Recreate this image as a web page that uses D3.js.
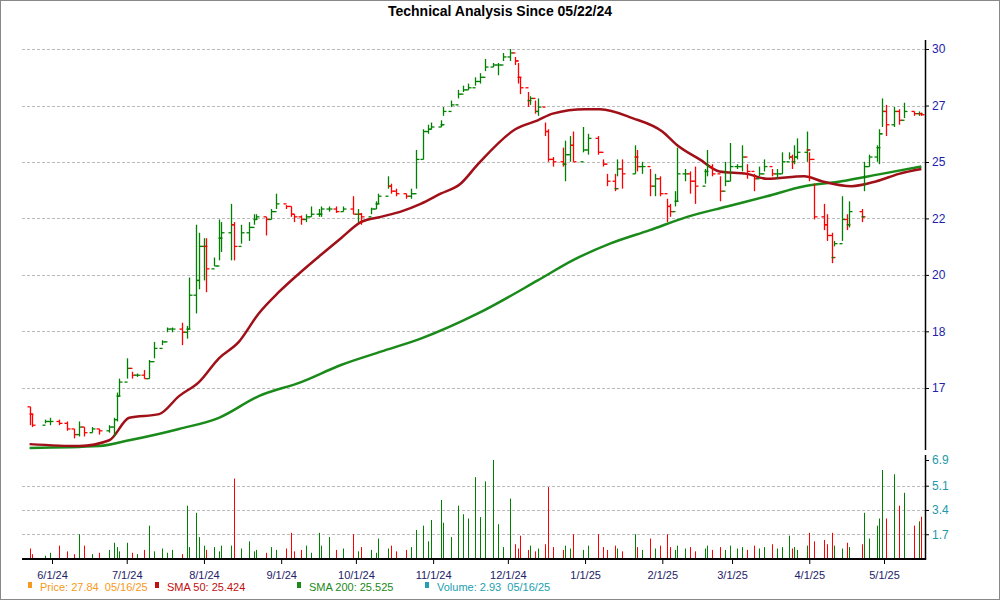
<!DOCTYPE html>
<html><head><meta charset="utf-8">
<script src="https://cdn.jsdelivr.net/npm/d3@7"></script>
<style>body{margin:0;background:#fff;font-family:"Liberation Sans",Arial,sans-serif}</style>
</head><body><svg id="c" width="1000" height="600"></svg>
<script>
const dates=["2024-05-23","2024-05-24","2024-05-29","2024-05-31","2024-06-04","2024-06-07","2024-06-10","2024-06-12","2024-06-14","2024-06-17","2024-06-20","2024-06-24","2024-06-26","2024-06-27","2024-06-28","2024-07-01","2024-07-03","2024-07-05","2024-07-08","2024-07-10","2024-07-12","2024-07-15","2024-07-17","2024-07-19","2024-07-23","2024-07-25","2024-07-26","2024-07-29","2024-07-30","2024-08-01","2024-08-02","2024-08-05","2024-08-07","2024-08-08","2024-08-12","2024-08-13","2024-08-16","2024-08-19","2024-08-21","2024-08-22","2024-08-26","2024-08-28","2024-08-30","2024-09-03","2024-09-05","2024-09-06","2024-09-09","2024-09-11","2024-09-13","2024-09-16","2024-09-17","2024-09-20","2024-09-23","2024-09-26","2024-09-30","2024-10-02","2024-10-03","2024-10-07","2024-10-09","2024-10-10","2024-10-14","2024-10-15","2024-10-17","2024-10-21","2024-10-23","2024-10-25","2024-10-28","2024-10-30","2024-10-31","2024-11-04","2024-11-05","2024-11-08","2024-11-11","2024-11-13","2024-11-15","2024-11-18","2024-11-20","2024-11-22","2024-11-25","2024-11-27","2024-11-29","2024-12-02","2024-12-04","2024-12-05","2024-12-06","2024-12-09","2024-12-10","2024-12-12","2024-12-13","2024-12-16","2024-12-17","2024-12-19","2024-12-23","2024-12-24","2024-12-26","2024-12-27","2024-12-31","2025-01-02","2025-01-06","2025-01-08","2025-01-10","2025-01-13","2025-01-14","2025-01-16","2025-01-21","2025-01-22","2025-01-24","2025-01-27","2025-01-29","2025-01-31","2025-02-03","2025-02-04","2025-02-06","2025-02-07","2025-02-10","2025-02-12","2025-02-14","2025-02-18","2025-02-19","2025-02-21","2025-02-24","2025-02-26","2025-02-28","2025-03-03","2025-03-05","2025-03-07","2025-03-10","2025-03-12","2025-03-14","2025-03-17","2025-03-19","2025-03-21","2025-03-24","2025-03-25","2025-03-26","2025-03-27","2025-03-31","2025-04-01","2025-04-03","2025-04-07","2025-04-08","2025-04-10","2025-04-11","2025-04-14","2025-04-16","2025-04-17","2025-04-22","2025-04-23","2025-04-25","2025-04-28","2025-04-29","2025-04-30","2025-05-02","2025-05-05","2025-05-07","2025-05-09","2025-05-13","2025-05-15","2025-05-16"];
const closes=[16.2,15.9,16.0,16.0,15.95,15.8,15.65,15.85,15.7,15.8,15.75,15.85,16.05,16.7,17.1,17.5,17.3,17.3,17.2,17.7,18.1,18.3,18.7,18.7,18.6,18.7,19.8,20.3,21.5,21.5,20.7,20.8,21.8,22.0,22.3,21.5,22.0,22.2,22.5,22.6,22.5,22.8,23.1,23.0,22.7,22.6,22.5,22.6,22.7,22.7,22.9,22.9,22.8,22.9,22.7,22.7,22.6,22.9,23.1,23.4,23.8,23.6,23.5,23.4,23.5,24.9,26.1,26.2,26.3,26.4,27.0,27.3,27.8,28.0,28.1,28.4,28.6,29.1,29.2,29.2,29.6,29.8,29.4,28.6,28.1,27.5,27.6,27.0,27.2,26.1,24.9,24.8,24.7,25.1,25.5,24.8,25.3,25.8,25.2,24.7,24.0,23.7,24.5,24.3,25.0,24.6,24.6,23.8,24.1,23.5,23.0,22.8,23.2,24.3,24.3,24.0,23.8,24.4,24.6,24.3,23.6,24.0,24.6,24.6,25.0,24.4,24.1,24.3,24.6,24.3,24.3,24.8,25.0,24.8,25.0,25.2,25.3,24.9,22.6,22.3,21.9,21.1,21.6,22.5,22.3,22.8,22.6,24.6,25.0,25.4,26.0,27.0,26.4,27.0,26.6,27.0,26.9,26.9,26.85];
const highs=[16.4,16.2,16.05,16.1,16.05,16.0,15.8,16.0,15.85,15.85,15.8,15.9,16.1,16.8,17.2,17.8,17.4,17.35,17.45,17.75,18.3,18.35,18.75,18.75,18.9,18.8,20.4,22.3,22.0,21.8,21.8,21.1,22.5,22.4,23.1,22.4,22.3,22.4,22.7,22.7,22.6,22.9,23.5,23.05,23.0,22.7,22.65,22.7,23.0,22.9,23.0,23.0,23.0,23.0,23.4,22.9,22.75,22.95,23.2,23.5,24.2,23.9,23.7,23.5,23.7,25.3,26.2,26.4,26.5,26.6,27.2,27.5,28.0,28.2,28.3,28.6,28.8,29.5,29.3,29.3,29.8,30.0,29.6,29.3,28.6,27.9,27.7,27.5,27.6,26.5,26.2,25.0,25.4,25.7,25.9,26.1,26.3,26.0,25.9,24.9,24.3,24.3,24.9,24.9,25.5,25.3,24.8,24.5,24.3,24.2,23.3,23.1,23.6,25.4,24.5,24.4,24.6,24.5,25.3,24.7,24.2,24.8,25.6,24.7,25.5,24.7,24.3,24.6,24.9,24.5,24.5,25.2,25.2,25.1,25.5,25.8,26.1,25.2,23.9,23.1,22.7,22.0,21.7,23.4,22.7,23.2,22.9,24.8,25.1,25.5,26.2,27.6,27.3,27.2,27.1,27.4,27.0,27.0,26.95];
const lows=[15.9,15.85,15.95,15.9,15.9,15.75,15.55,15.6,15.6,15.7,15.65,15.7,15.6,16.0,16.7,17.2,17.2,17.25,17.2,17.2,17.8,18.2,18.6,18.6,18.2,18.4,18.7,19.2,20.0,20.3,19.9,20.8,21.0,21.3,21.0,21.0,21.6,21.7,22.3,22.5,21.9,22.5,22.9,22.9,22.6,22.4,22.3,22.4,22.6,22.6,22.6,22.8,22.75,22.8,22.7,22.4,22.3,22.7,22.9,23.1,23.7,23.5,23.4,23.3,23.3,23.7,24.9,26.0,26.2,26.3,26.8,27.2,27.6,27.9,28.0,28.2,28.3,28.9,29.1,28.7,29.4,29.4,29.2,28.3,27.8,27.2,27.3,26.9,26.8,25.9,24.8,24.6,24.6,24.0,24.8,24.8,25.2,25.1,25.1,24.6,23.8,23.6,24.2,23.7,24.3,24.4,24.3,23.4,23.4,23.4,22.4,22.6,23.0,23.2,24.0,23.5,23.1,23.9,24.2,24.2,23.2,23.8,24.0,24.5,24.4,24.1,23.6,24.2,24.4,24.2,24.1,24.3,24.9,24.5,24.7,24.9,24.8,24.0,22.5,22.1,21.7,20.9,21.5,21.7,22.1,22.2,22.4,23.6,24.6,24.8,24.7,26.3,25.9,26.3,26.4,26.7,26.8,26.8,26.8];
const volumes=[0.7,0.3,0.2,0.4,0.9,0.5,0.3,1.7,0.9,0.3,
0.4,0.6,1.1,0.8,0.5,1.1,0.4,0.3,0.6,2.3,
0.5,0.7,0.4,0.6,0.3,3.7,0.8,3.2,1.5,0.9,
0.6,0.8,0.5,0.9,0.9,5.6,0.7,1.2,0.5,0.6,
0.4,0.8,0.6,0.7,1.8,0.5,0.6,0.9,0.4,1.8,
0.9,1.5,0.6,0.7,1.7,0.5,0.8,0.6,0.4,1.4,
0.7,0.9,0.5,0.6,0.8,2.0,2.3,1.2,2.7,4.1,
2.5,1.5,3.7,3.1,2.8,5.7,2.9,5.4,6.9,2.4,
0.8,4.2,1.0,0.7,1.6,0.6,0.9,0.5,0.7,1.0,
5.0,0.8,0.6,0.9,0.7,1.7,0.6,0.9,1.7,0.8,
0.6,0.9,0.7,0.5,1.7,0.8,0.6,1.4,0.7,0.9,
1.7,0.8,0.6,0.9,0.7,0.8,0.5,0.7,0.9,0.6,
0.8,0.6,0.9,0.7,0.8,0.6,0.9,0.7,0.8,1.0,
0.7,0.8,1.6,0.7,0.8,0.6,0.9,1.8,1.2,1.3,
1.0,1.8,0.9,0.7,1.1,0.8,1.0,3.2,1.4,2.3,
2.8,6.2,2.8,5.9,3.7,4.6,2.3,2.6,2.93];
const sma50Dates=["2024-05-23","2024-06-12","2024-06-24","2024-07-02","2024-07-14","2024-07-22","2024-07-30","2024-08-07","2024-08-15","2024-08-23","2024-08-31","2024-09-09","2024-09-17","2024-09-25","2024-10-03","2024-10-11","2024-10-19","2024-10-27","2024-11-04","2024-11-12","2024-11-19","2024-12-04","2024-12-13","2024-12-19","2025-01-01","2025-01-07","2025-01-20","2025-02-01","2025-02-07","2025-02-16","2025-02-24","2025-03-07","2025-03-15","2025-03-30","2025-04-06","2025-04-18","2025-04-28","2025-05-07","2025-05-16"];
const sma50=[15.4,15.35,15.5,16.1,16.2,16.7,17.1,17.8,18.3,19.2,19.9,20.6,21.2,21.8,22.4,22.6,22.8,23.1,23.5,23.9,24.7,26.2,26.6,26.9,27.1,27.1,26.7,26.1,25.5,24.9,24.4,24.3,24.1,24.2,24.0,23.8,24.0,24.3,24.5];
const sma200Dates=["2024-05-23","2024-06-20","2024-07-02","2024-07-22","2024-08-07","2024-08-23","2024-09-09","2024-09-25","2024-10-11","2024-10-27","2024-11-19","2024-12-13","2024-12-27","2025-01-11","2025-01-27","2025-02-11","2025-02-27","2025-03-15","2025-03-30","2025-04-14","2025-04-30","2025-05-16"];
const sma200=[15.3,15.35,15.5,15.8,16.1,16.7,17.1,17.6,18.0,18.4,19.2,20.3,21.0,21.6,22.1,22.6,23.0,23.4,23.8,24.0,24.3,24.6];
const priceTicks=[30,27.27,24.79,22.54,20.49,18.63,16.93];
const priceTickLabels=["30","27","25","22","20","18","17"];
const volTicks=[1.7,3.4,5.1,6.9];
const dateTicks=["2024-06-01","2024-07-01","2024-08-01","2024-09-01","2024-10-01","2024-11-01","2024-12-01","2025-01-01","2025-02-01","2025-03-01","2025-04-01","2025-05-01"];
const dateTickLabels=["6/1/24","7/1/24","8/1/24","9/1/24","10/1/24","11/1/24","12/1/24","1/1/25","2/1/25","3/1/25","4/1/25","5/1/25"];

const P=d3.timeParse("%Y-%m-%d");
const svg=d3.select("#c");
const L=22,R=925;
svg.append("rect").attr("x",0.5).attr("y",0.5).attr("width",999).attr("height",599).attr("fill","none").attr("stroke","#888");
svg.append("text").attr("x",500).attr("y",16).attr("text-anchor","middle").attr("font-weight","bold").attr("font-size",14).text("Technical Analysis Since 05/22/24");
const x=d3.scaleTime().domain([P("2024-06-01"),P("2025-05-01")]).range([52,884]);
const y=d3.scaleLog().domain([16.93,30]).range([388,49]);
const yv=d3.scaleLinear().domain([0,6.9]).range([558.5,460]);
priceTicks.forEach(t=>svg.append("line").attr("x1",L).attr("x2",R).attr("y1",Math.round(y(t))+0.5).attr("y2",Math.round(y(t))+0.5).attr("stroke","#bbb").attr("stroke-dasharray","3,2"));
volTicks.slice(0,3).forEach(t=>svg.append("line").attr("x1",L).attr("x2",R).attr("y1",Math.round(yv(t))+0.5).attr("y2",Math.round(yv(t))+0.5).attr("stroke","#bbb").attr("stroke-dasharray","3,2"));
const data=dates.map((d,i)=>({d:P(d),c:closes[i],h:highs[i],l:lows[i],o:i?closes[i-1]:closes[i]+0.2,v:volumes[i]}));
data.forEach(b=>b.col=(b.c>=b.o)?"#008000":"#ff0000");
svg.append("g").selectAll("line").data(data).join("line").attr("x1",b=>Math.round(x(b.d))+0.5).attr("x2",b=>Math.round(x(b.d))+0.5).attr("y1",yv(0)).attr("y2",b=>yv(b.v)).attr("stroke",b=>b.col).attr("stroke-width",1);
const line=d3.line().x(d=>x(d[0])).y(d=>y(d[1])).curve(d3.curveMonotoneX);
svg.append("path").attr("d",line(sma200Dates.map((d,i)=>[P(d),sma200[i]]))).attr("fill","none").attr("stroke","#1a8a1a").attr("stroke-width",2.5);
svg.append("path").attr("d",line(sma50Dates.map((d,i)=>[P(d),sma50[i]]))).attr("fill","none").attr("stroke","#a01018").attr("stroke-width",2.5);
const g=svg.append("g").attr("stroke-width",1.3);
data.forEach(b=>{const xx=Math.round(x(b.d))+0.5;
 g.append("line").attr("x1",xx).attr("x2",xx).attr("y1",y(b.h)).attr("y2",y(b.l)).attr("stroke",b.col);
 g.append("line").attr("x1",xx-3).attr("x2",xx).attr("y1",y(b.o)).attr("y2",y(b.o)).attr("stroke",b.col);
 g.append("line").attr("x1",xx).attr("x2",xx+3).attr("y1",y(b.c)).attr("y2",y(b.c)).attr("stroke",b.col);});
svg.append("line").attr("x1",R+0.5).attr("x2",R+0.5).attr("y1",40).attr("y2",450).attr("stroke","#000").attr("stroke-width",1.5);
svg.append("line").attr("x1",R+0.5).attr("x2",R+0.5).attr("y1",455).attr("y2",560).attr("stroke","#000").attr("stroke-width",1.5);
svg.append("line").attr("x1",L).attr("x2",R+1).attr("y1",559).attr("y2",559).attr("stroke","#000").attr("stroke-width",2);
const ay=svg.append("g").attr("transform",`translate(${R},0)`).call(d3.axisRight(y).tickValues(priceTicks).tickSize(4).tickFormat((d,i)=>priceTickLabels[i]));
ay.select(".domain").remove();ay.selectAll("text").attr("fill","#2222aa").attr("font-size",12).attr("font-family","Liberation Sans,Arial");
const av=svg.append("g").attr("transform",`translate(${R},0)`).call(d3.axisRight(yv).tickValues(volTicks).tickSize(4).tickFormat(d3.format(".1f")));
av.select(".domain").remove();av.selectAll("text").attr("fill","#2299aa").attr("font-size",12).attr("font-family","Liberation Sans,Arial");
const ax=svg.append("g").attr("transform","translate(0,559)").call(d3.axisBottom(x).tickValues(dateTicks.map(P)).tickSize(5).tickFormat((d,i)=>dateTickLabels[i]));
ax.select(".domain").remove();ax.selectAll("text").attr("fill","#222266").attr("font-size",11).attr("font-family","Liberation Sans,Arial").attr("y",12);
const leg=[["Price: 27.84  05/16/25","#f59a20",40],["SMA 50: 25.424","#c01010",167],["SMA 200: 25.525","#1a8a1a",309],["Volume: 2.93  05/16/25","#20a0b0",437]];
leg.forEach(l=>{svg.append("rect").attr("x",l[2]-12).attr("y",582).attr("width",4).attr("height",6).attr("fill",l[1]);
 svg.append("text").attr("x",l[2]).attr("y",591).attr("font-size",11).attr("fill",l[1]).attr("xml:space","preserve").text(l[0]);});
</script></body></html>
